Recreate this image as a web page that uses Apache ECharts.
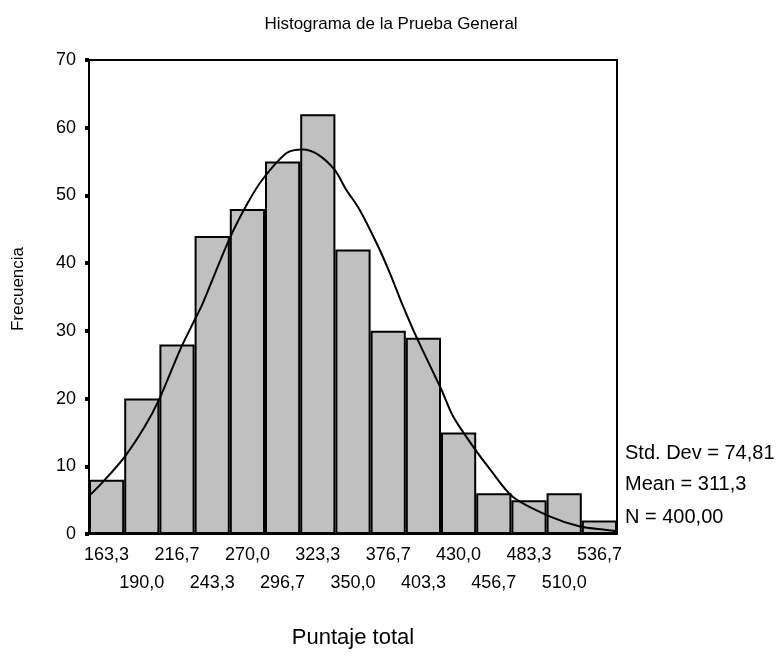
<!DOCTYPE html>
<html>
<head>
<meta charset="utf-8">
<script src="https://cdn.jsdelivr.net/npm/echarts@6/dist/echarts.min.js"></script>
<style>
  html, body { margin: 0; padding: 0; background: #fff; }
  #main { width: 782px; height: 657px; }
</style>
</head>
<body>
<div id="main"></div>
<script>
// marcas de clase (centros de los intervalos)
const categories = ['163,3', '190,0', '216,7', '243,3', '270,0', '296,7', '323,3', '350,0',
  '376,7', '403,3', '430,0', '456,7', '483,3', '510,0', '536,7']
const frequencies = [8, 20, 28, 44, 48, 55, 62, 42, 30, 29, 15, 6, 5, 6, 2]
// curva normal, puntos
const curveX = [150, 162, 177, 192, 203, 219, 230, 236, 256, 270, 282, 300, 312, 323,
  336, 345, 355, 368, 378, 388, 398, 417, 426, 441, 454, 471, 499, 522, 542, 550]
const curveY = [5.6, 8.0, 11.4, 15.8, 19.8, 27.2, 31.6, 34.0, 43.4, 48.8, 52.5, 56.3, 56.8, 56.1,
  53.8, 50.8, 47.9, 42.9, 38.5, 33.6, 29.1, 21.3, 17.3, 12.9, 9.5, 5.5, 2.6, 1.1, 0.6, 0.4]
const yTicks = [0, 10, 20, 30, 40, 50, 60, 70]
const statLines = ['Std. Dev = 74,81', 'Mean = 311,3', 'N = 400,00']

const font = 'Liberation Sans, Arial, sans-serif'
const chart = echarts.init(document.getElementById('main'))

chart.setOption({
  animation: false,
  title: {
    text: 'Histograma de la Prueba General',
    left: 'center',
    top: 11,
    textStyle: { fontFamily: font, fontSize: 17, fontWeight: 'normal', color: '#000' }
  },
  grid: {
    left: 89,
    right: 165,
    top: 60,
    bottom: 123,
    outerBoundsMode: 'none',
    containLabel: false,
    show: true,
    borderColor: '#000',
    borderWidth: 2,
    backgroundColor: '#fff'
  },
  xAxis: [
    {
      type: 'category',
      data: categories,
      boundaryGap: true,
      name: 'Puntaje total',
      nameLocation: 'middle',
      nameGap: 93,
      nameTextStyle: { fontFamily: font, fontSize: 22, color: '#000' },
      axisLine: { lineStyle: { color: '#000', width: 2 } },
      axisTick: { alignWithLabel: true, length: 4, lineStyle: { color: '#000', width: 5 } },
      axisLabel: {
        interval: 0,
        margin: 7,
        lineHeight: 28,
        fontFamily: font,
        fontSize: 18,
        color: '#000',
        formatter: (v, i) => (i % 2 ? '\n' + v : v)
      }
    },
    {
      type: 'value',
      min: 150,
      max: 550,
      show: false
    }
  ],
  yAxis: {
    type: 'value',
    min: 0,
    max: 70,
    interval: 10,
    splitLine: { show: false },
    axisLine: { show: true, lineStyle: { color: '#000', width: 2 } },
    axisTick: { show: true, length: 4, lineStyle: { color: '#000', width: 4 } },
    axisLabel: {
      margin: 13,
      fontFamily: font,
      fontSize: 18,
      color: '#000',
      formatter: v => (yTicks.includes(v) ? String(v) : '')
    }
  },
  graphic: [
    {
      type: 'text',
      x: 18,
      y: 289,
      rotation: Math.PI / 2,
      style: { text: 'Frecuencia', fontFamily: font, fontSize: 17, fill: '#000', align: 'center', verticalAlign: 'middle' }
    }
  ].concat(statLines.map((t, i) => ({
    type: 'text',
    x: 625,
    y: [453, 484, 517][i],
    style: { text: t, fontFamily: font, fontSize: 20, fill: '#000', verticalAlign: 'middle' }
  }))),
  series: [
    {
      name: 'Frecuencia',
      type: 'bar',
      xAxisIndex: 0,
      data: frequencies,
      barWidth: '100%',
      barCategoryGap: 0,
      itemStyle: { color: '#c0c0c0', borderColor: '#000', borderWidth: 2 }
    },
    {
      name: 'Normal',
      type: 'line',
      xAxisIndex: 1,
      data: curveX.map((x, i) => [x, curveY[i]]),
      smooth: 0.3,
      showSymbol: false,
      lineStyle: { color: '#000', width: 2 },
      z: 5
    }
  ]
})
</script>
</body>
</html>
